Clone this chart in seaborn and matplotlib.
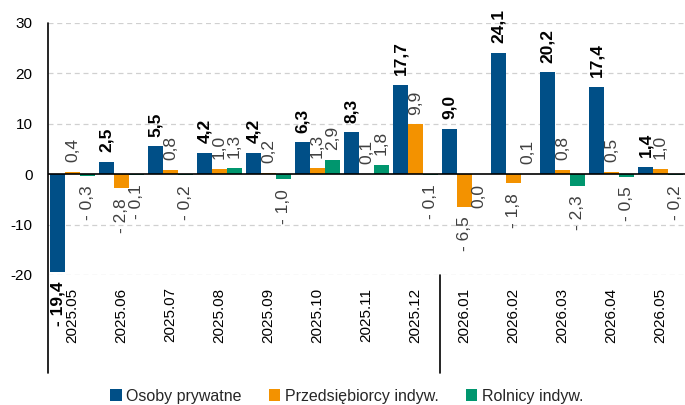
import numpy as np
import pandas as pd
import matplotlib
matplotlib.use("Agg")
import matplotlib.pyplot as plt
import matplotlib.transforms as mtransforms
from matplotlib.lines import Line2D
from matplotlib.patches import Patch
import seaborn as sns

# ---- data ----
months = ["2025.05", "2025.06", "2025.07", "2025.08", "2025.09", "2025.10", "2025.11",
          "2025.12", "2026.01", "2026.02", "2026.03", "2026.04", "2026.05"]
series_names = ["Osoby prywatne", "Przedsiębiorcy indyw.", "Rolnicy indyw."]
osoby = [-19.4, 2.5, 5.5, 4.2, 4.2, 6.3, 8.3, 17.7, 9.0, 24.1, 20.2, 17.4, 1.4]
przedsiebiorcy = [0.4, -2.8, 0.8, 1.0, 0.2, 1.3, 0.1, 9.9, -6.5, -1.8, 0.8, 0.5, 1.0]
rolnicy = [-0.3, -0.1, -0.2, 1.3, -1.0, 2.9, 1.8, -0.1, 0.0, 0.1, -2.3, -0.5, -0.2]
y_ticks = [-20, -10, 0, 10, 20, 30]

colors = ["#004f87", "#f39200", "#00966e"]

sns.set_theme(style="white")
plt.rcParams["font.family"] = ["Liberation Sans", "DejaVu Sans"]
plt.rcParams["axes.unicode_minus"] = False

df = pd.DataFrame({
    "Miesiąc": months * 3,
    "Seria": np.repeat(series_names, len(months)),
    "Wartość": osoby + przedsiebiorcy + rolnicy,
})

W, H = 685, 405
fig = plt.figure(figsize=(W / 100, H / 100), dpi=100)
ax = fig.add_axes([48 / W, 1 - 275 / H, 637 / W, 252 / H])

sns.barplot(data=df, x="Miesiąc", y="Wartość", hue="Seria", hue_order=series_names,
            palette=colors, saturation=1, width=0.9, errorbar=None, linewidth=0, ax=ax)
if ax.get_legend() is not None:
    ax.get_legend().remove()

ax.set_ylim(-20, 30)
ax.set_xlim(-0.5, len(months) - 0.5)
ax.set_yticks(y_ticks)
ax.set_yticklabels([str(t) for t in y_ticks], fontsize=11, color="black")
ax.set_xlabel("")
ax.set_ylabel("")
ax.set_xticks(range(len(months)))
ax.set_xticklabels(months, rotation=90, fontsize=11, color="black", va="top")
ax.tick_params(axis="x", length=0, pad=9)
ax.tick_params(axis="y", length=0, pad=11)

for s in ax.spines.values():
    s.set_visible(False)

for t in y_ticks:
    if t != 0:
        ax.axhline(t, color="#d0d0d0", lw=0.9, ls=(0, (4, 3)), zorder=0)
ax.axhline(0, color="black", lw=1.2, zorder=3)

# left axis line extending into label area
ax.add_line(Line2D([0, 0], [1, -98 / 252], transform=ax.transAxes, color="black",
                   lw=1.2, clip_on=False))
# year separator
trans = mtransforms.blended_transform_factory(ax.transData, ax.transAxes)
ax.add_line(Line2D([7.5, 7.5], [0, -98 / 252], transform=trans, color="black",
                   lw=1.2, clip_on=False))


def fmt(v):
    s = f"{abs(v):.1f}".replace(".", ",")
    return f"- {s}" if v < 0 else s


all_vals = [osoby, przedsiebiorcy, rolnicy]
for i, (cont, vals) in enumerate(zip(ax.containers, all_vals)):
    for bar, v in zip(cont, vals):
        x = bar.get_x() + bar.get_width() / 2
        pos = v > 0
        ax.annotate(fmt(v), (x, v), xytext=(0, 7 if pos else -7), textcoords="offset points",
                    rotation=90, ha="center", va="bottom" if pos else "top",
                    fontsize=12.5,
                    fontweight="bold" if i == 0 else "normal",
                    color="black" if i == 0 else "#404040",
                    annotation_clip=False, zorder=5)

handles = [Patch(facecolor=c, edgecolor="none", label=n) for c, n in zip(colors, series_names)]
fig.legend(handles=handles, loc="center", bbox_to_anchor=(347 / W, 1 - 396 / H), ncol=3,
           frameon=False, handlelength=0.7, handleheight=0.7, handletextpad=0.3,
           columnspacing=1.7, fontsize=11.5)

fig.savefig("out.png", dpi=100)
